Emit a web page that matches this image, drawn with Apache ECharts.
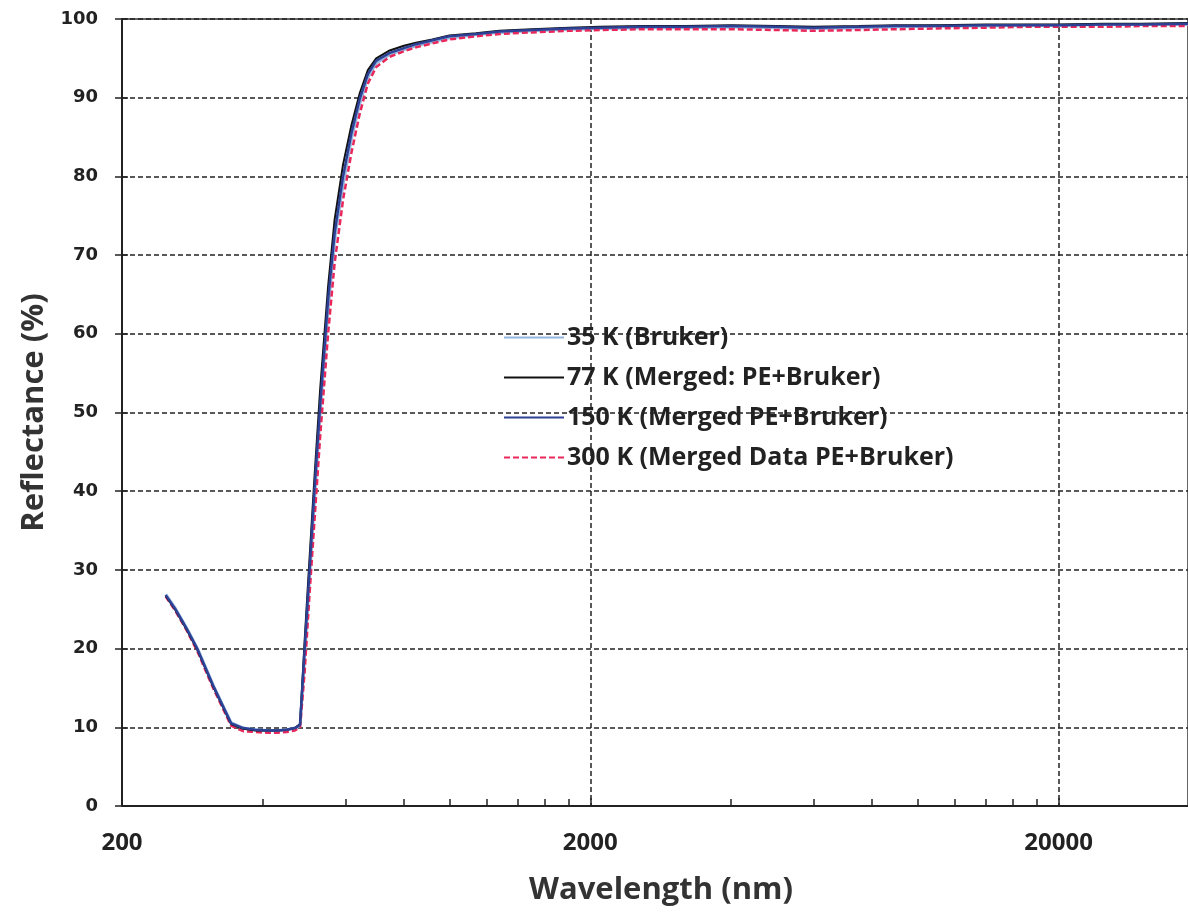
<!DOCTYPE html>
<html>
<head>
<meta charset="utf-8">
<title>Reflectance</title>
<script src="https://cdn.jsdelivr.net/npm/echarts@6/dist/echarts.min.js"></script>
<style>
  html, body { margin: 0; padding: 0; background: #fff; }
  #chart { width: 1188px; height: 915px; }
</style>
</head>
<body>
<div id="chart"></div>
<script>
// wavelengths (nm) shared by every series
const wavelengths = [248, 260, 275, 290, 313, 342, 363, 385, 410, 430, 450, 468, 480, 491, 503, 515, 530, 551, 569, 593, 618, 644, 670, 698, 746, 800, 849, 920, 1000, 1140, 1280, 1500, 1800, 2100, 2600, 3200, 4000, 5000, 6000, 7500, 9000, 11000, 14000, 17000, 20000, 25000, 30000, 37800]

// reflectance (%)
const r35 = [26.9, 25.1, 22.6, 20.0, 15.4, 10.6, 9.9, 9.7, 9.6, 9.6, 9.7, 9.9, 10.2, 19.0, 29.0, 38.5, 50.0, 63.0, 72.0, 79.0, 84.8, 89.3, 92.6, 94.4, 95.5, 96.1, 96.6, 97.1, 97.6, 98.0, 98.3, 98.5, 98.7, 98.8, 98.9, 98.9, 99.0, 98.9, 98.8, 98.9, 99.0, 99.1, 99.1, 99.2, 99.2, 99.3, 99.3, 99.3]
const r77 = [26.7, 24.9, 22.4, 19.8, 15.2, 10.4, 9.8, 9.6, 9.6, 9.6, 9.7, 9.9, 10.4, 21.0, 31.5, 41.5, 53.0, 66.0, 74.5, 81.5, 86.5, 90.6, 93.5, 95.0, 96.0, 96.6, 97.0, 97.4, 97.9, 98.2, 98.5, 98.7, 98.9, 99.0, 99.1, 99.1, 99.2, 99.1, 99.0, 99.1, 99.2, 99.2, 99.3, 99.3, 99.3, 99.4, 99.4, 99.5]
const r150 = [26.8, 25.0, 22.5, 19.9, 15.3, 10.5, 9.9, 9.7, 9.6, 9.6, 9.7, 9.9, 10.3, 20.0, 30.0, 40.0, 51.0, 64.3, 72.8, 80.0, 85.5, 89.9, 93.0, 94.7, 95.7, 96.3, 96.8, 97.3, 97.8, 98.1, 98.4, 98.6, 98.8, 98.9, 99.0, 99.0, 99.1, 99.0, 98.9, 99.0, 99.1, 99.1, 99.2, 99.2, 99.2, 99.3, 99.3, 99.4]
const r300 = [26.6, 24.8, 22.3, 19.6, 15.0, 10.2, 9.5, 9.4, 9.3, 9.3, 9.4, 9.6, 10.0, 17.0, 27.0, 36.0, 47.0, 60.0, 69.0, 77.0, 83.0, 88.0, 91.8, 93.9, 95.2, 95.9, 96.4, 96.9, 97.4, 97.8, 98.1, 98.3, 98.5, 98.6, 98.7, 98.7, 98.7, 98.6, 98.5, 98.6, 98.7, 98.8, 98.9, 99.0, 99.0, 99.0, 99.1, 99.1]

const xLabels = [200, 2000, 20000]
const xMinorTicks = [400, 600, 800, 1000, 1200, 1400, 1600, 1800, 4000, 6000, 8000, 10000, 12000, 14000, 16000, 18000]

const seriesNames = ['35 K (Bruker)', '77 K (Merged: PE+Bruker)', '150 K (Merged PE+Bruker)', '300 K (Merged Data PE+Bruker)']

const pairs = (ys) => wavelengths.map((w, i) => [w, ys[i]])

const chart = echarts.init(document.getElementById('chart'))

const gridLine = { show: true, lineStyle: { color: '#222', width: 1.5, type: [5, 3] } }

const option = {
  animation: false,
  backgroundColor: '#fff',
  grid: {
    left: 122, top: 19, right: -2, bottom: 109,
    show: true, borderColor: '#333', borderWidth: 1.5
  },
  legend: {
    orient: 'vertical',
    left: 498,
    top: 320,
    itemWidth: 60,
    itemHeight: 14,
    itemGap: 15,
    data: seriesNames,
    itemStyle: { opacity: 0 },
    textStyle: { fontFamily: 'Open Sans', fontWeight: 'bold', fontSize: 25, color: '#222', padding: [0, 0, 0, -2] }
  },
  xAxis: [
    {
      type: 'log',
      logBase: 10,
      min: 200,
      max: 37800,
      name: 'Wavelength (nm)',
      nameLocation: 'middle',
      nameGap: 69,
      nameTextStyle: { fontFamily: 'Open Sans', fontWeight: 'bold', fontSize: 31, color: '#333', padding: [0, 0, 0, 12] },
      axisLine: { lineStyle: { color: '#222', width: 2 } },
      axisTick: { show: true, inside: true, length: 8, customValues: xLabels, lineStyle: { color: '#222', width: 1.5 } },
      axisLabel: {
        customValues: xLabels,
        margin: 25,
        formatter: (v) => String(Math.round(v)),
        fontFamily: 'Open Sans', fontWeight: 'bold', fontSize: 24, color: '#222'
      },
      splitLine: gridLine
    },
    {
      type: 'log',
      logBase: 10,
      min: 200,
      max: 37800,
      position: 'bottom',
      axisLine: { show: false },
      axisTick: { show: true, inside: true, length: 7, customValues: xMinorTicks, lineStyle: { color: '#222', width: 1.5 } },
      axisLabel: { show: false },
      splitLine: { show: false }
    }
  ],
  yAxis: [
    {
      type: 'value',
      min: 0,
      max: 100,
      interval: 10,
      name: 'Reflectance (%)',
      nameLocation: 'middle',
      nameGap: 72,
      nameTextStyle: { fontFamily: 'Open Sans', fontWeight: 'bold', fontSize: 31, color: '#333' },
      axisLine: { show: true, lineStyle: { color: '#222', width: 2 } },
      axisTick: { show: true, length: 7, lineStyle: { color: '#222', width: 1.5 } },
      axisLabel: { margin: 24, fontFamily: 'DejaVu Sans', fontWeight: 'bold', fontSize: 18, color: '#222' },
      splitLine: gridLine
    },
    {
      type: 'value',
      min: 0,
      max: 100,
      interval: 10,
      position: 'left',
      axisLine: { show: false },
      axisTick: { show: true, inside: true, length: 6, lineStyle: { color: '#222', width: 1.5 } },
      axisLabel: { show: false },
      splitLine: { show: false }
    }
  ],
  series: [
    {
      name: seriesNames[0], type: 'line', symbol: 'none', z: 2,
      data: pairs(r35),
      lineStyle: { color: '#93b6e0', width: 3 },
      itemStyle: { color: '#93b6e0' }
    },
    {
      name: seriesNames[1], type: 'line', symbol: 'none', z: 4,
      data: pairs(r77),
      lineStyle: { color: '#111', width: 2 },
      itemStyle: { color: '#111' }
    },
    {
      name: seriesNames[2], type: 'line', symbol: 'none', z: 5,
      data: pairs(r150),
      lineStyle: { color: '#2c4194', width: 2.5 },
      itemStyle: { color: '#2c4194' }
    },
    {
      name: seriesNames[3], type: 'line', symbol: 'none', z: 3,
      data: pairs(r300),
      lineStyle: { color: '#e8285a', width: 2.5, type: [6, 3] },
      itemStyle: { color: '#e8285a' }
    }
  ]
}

chart.setOption(option)
</script>
</body>
</html>
